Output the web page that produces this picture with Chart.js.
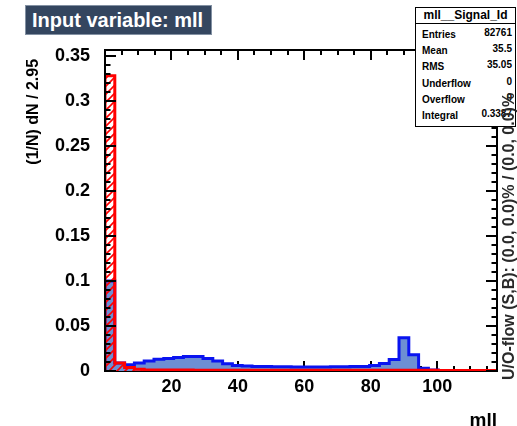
<!DOCTYPE html>
<html><head><meta charset="utf-8">
<script src="https://cdn.jsdelivr.net/npm/chart.js@4.4.1/dist/chart.umd.min.js"></script>
<style>
html,body{margin:0;padding:0;background:#fff;}
#wrap{position:relative;width:517px;height:426px;overflow:hidden;font-family:'Liberation Sans',Arial,sans-serif;}
#c{position:absolute;left:0;top:0;}
#title{position:absolute;left:25px;top:5px;width:187px;height:30px;box-sizing:border-box;background:#34465f;border:1px solid #8391a3;color:#fff;font-weight:bold;font-size:20px;line-height:28px;padding-left:6px;white-space:nowrap;}
#stats{position:absolute;left:415px;top:7px;width:101px;height:120px;box-sizing:border-box;border:1px solid #000;background:#fff;font-weight:bold;color:#000;}
#stats .hd{height:15px;line-height:15px;font-size:12px;text-align:center;border-bottom:1px solid #000;}
#stats .rows{padding-top:3px;}
#stats .row{display:flex;justify-content:space-between;height:16.2px;line-height:16.2px;font-size:10px;padding:0 3px 0 6px;}
#stats .row span:last-child{position:relative;top:-2px;}
#uo{position:absolute;left:500px;top:380px;transform-origin:0 0;transform:rotate(-90deg);font-size:16px;font-weight:bold;line-height:18px;white-space:nowrap;color:#2a2a2a;}
</style>
</head><body>
<div id="wrap">
<canvas id="c" width="517" height="426"></canvas>
<div id="title">Input variable: mll</div>
<div id="stats"></div>
<div id="uo">U/O-flow (S,B): (0.0, 0.0)% / (0.0, 0.0)%</div>
</div>
<script>
// ---- data ----
const BIN_WIDTH = 2.95;
const X_MIN = 0, X_MAX = 118;
const signal = [
  0.100, 0.009, 0.007, 0.009, 0.011, 0.013, 0.014, 0.015, 0.016, 0.016,
  0.014, 0.011, 0.008, 0.006, 0.0055, 0.005, 0.005, 0.0048, 0.0046, 0.0045,
  0.0045, 0.0045, 0.0045, 0.0046, 0.0048, 0.005, 0.005, 0.006, 0.0084, 0.0128,
  0.037, 0.018, 0.003, 0.001, 0.0006, 0.0004, 0.0003, 0.0003, 0.0003, 0.0003
];
const background = [
  0.328, 0.009, 0.004, 0.002, 0.0012, 0.001, 0.001, 0.001, 0.001, 0.0009,
  0.0009, 0.0008, 0.0008, 0.0008, 0.0007, 0.0007, 0.0007, 0.0007, 0.0007, 0.0007,
  0.0007, 0.0007, 0.0007, 0.0007, 0.0007, 0.0007, 0.0007, 0.0007, 0.0008, 0.0008,
  0.0009, 0.0008, 0.0007, 0.0007, 0.0006, 0.0006, 0.0006, 0.0006, 0.0006, 0.0006
];
const xTickValues = [20, 40, 60, 80, 100];
const xTickLabels = ['20', '40', '60', '80', '100'];
const yTickValues = [0, 0.05, 0.1, 0.15, 0.2, 0.25, 0.3, 0.35];
const yTickLabels = ['0', '0.05', '0.1', '0.15', '0.2', '0.25', '0.3', '0.35'];
const Y_MAX = 0.3567;
const xTitle = 'mll';
const yTitle = '(1/N) dN / 2.95';
const statsTitle = 'mll__Signal_Id';
const statsNames = ['Entries', 'Mean', 'RMS', 'Underflow', 'Overflow', 'Integral'];
const statsValues = ['82761', '35.5', '35.05', '0', '0', '0.3387'];

// stats box
const sb = document.getElementById('stats');
let html = '<div class="hd">' + statsTitle + '</div><div class="rows">';
statsNames.forEach((n, i) => { html += '<div class="row"><span>' + n + '</span><span>' + statsValues[i] + '</span></div>'; });
sb.innerHTML = html + '</div>';

function histPoints(vals) {
  const pts = [{x: X_MIN, y: 0}];
  vals.forEach((v, i) => pts.push({x: X_MIN + i * BIN_WIDTH, y: v}));
  pts.push({x: X_MIN + vals.length * BIN_WIDTH, y: vals[vals.length - 1]});
  return pts;
}
function makeHatch(color) {
  const c = document.createElement('canvas'); c.width = 8; c.height = 8;
  const g = c.getContext('2d'); g.strokeStyle = color; g.lineWidth = 1.6;
  g.beginPath();
  g.moveTo(0, 8); g.lineTo(8, 0);
  g.moveTo(-4, 4); g.lineTo(4, -4);
  g.moveTo(4, 12); g.lineTo(12, 4);
  g.stroke();
  return g.createPattern(c, 'repeat');
}

const X_MINOR = 5, Y_MINOR = 0.01;
function vals(min, max, step) { const out = []; for (let k = 0; min + k * step <= max + 1e-9; k++) out.push(+(min + k * step).toFixed(6)); return out; }
function isMajor(v, list) { return list.some(t => Math.abs(t - v) < 1e-7); }

const framePlugin = {
  id: 'rootFrame',
  beforeDatasetsDraw(chart) {
    const {ctx, chartArea: a, scales: {x}} = chart;
    ctx.save(); ctx.strokeStyle = '#000'; ctx.lineWidth = 2;
    ctx.beginPath(); ctx.moveTo(a.left - 1, a.bottom); ctx.lineTo(a.right + 1, a.bottom); ctx.stroke();
    ctx.beginPath();
    vals(X_MIN, X_MAX, X_MINOR).forEach(v => {
      const px = Math.round(x.getPixelForValue(v)); const L = isMajor(v, xTickValues.concat([0])) ? 10 : 5;
      ctx.moveTo(px, a.bottom); ctx.lineTo(px, a.bottom - L);
    });
    ctx.stroke(); ctx.restore();
  },
  afterDatasetsDraw(chart) {
    const {ctx, chartArea: a, scales: {x, y}} = chart;
    ctx.save(); ctx.strokeStyle = '#000'; ctx.lineWidth = 2;
    ctx.beginPath();
    ctx.moveTo(a.left, a.bottom + 1); ctx.lineTo(a.left, a.top); ctx.lineTo(a.right, a.top); ctx.lineTo(a.right, a.bottom + 1);
    ctx.stroke();
    ctx.beginPath();
    vals(X_MIN, X_MAX, X_MINOR).forEach(v => {
      const px = Math.round(x.getPixelForValue(v)); const L = isMajor(v, xTickValues.concat([0])) ? 10 : 5;
      ctx.moveTo(px, a.top); ctx.lineTo(px, a.top + L);
    });
    vals(0, Y_MAX, Y_MINOR).forEach(v => {
      const py = Math.round(y.getPixelForValue(v)); const L = isMajor(v, yTickValues) ? 11 : 5.5;
      ctx.moveTo(a.left, py); ctx.lineTo(a.left + L, py);
      ctx.moveTo(a.right, py); ctx.lineTo(a.right - L, py);
    });
    ctx.stroke(); ctx.restore();
  }
};

Chart.defaults.font.family = "'Liberation Sans', Arial, sans-serif";
new Chart(document.getElementById('c'), {
  type: 'line',
  data: {
    datasets: [
      { label: 'Background', data: histPoints(background), stepped: 'before',
        borderColor: '#ff0000', borderWidth: 3, backgroundColor: makeHatch('#ff0000'),
        fill: 'origin', pointRadius: 0, tension: 0 },
      { label: 'Signal', data: histPoints(signal), stepped: 'before',
        borderColor: '#0a14f0', borderWidth: 3, backgroundColor: '#6d8fd3',
        fill: 'origin', pointRadius: 0, tension: 0 }
    ]
  },
  options: {
    responsive: false, animation: false, devicePixelRatio: 1,
    layout: { padding: { left: 0, top: 50, right: 20, bottom: 0 } },
    plugins: { legend: { display: false }, tooltip: { enabled: false } },
    scales: {
      x: {
        type: 'linear', min: X_MIN, max: X_MAX,
        afterBuildTicks: s => { s.ticks = xTickValues.map(v => ({value: v})); },
        afterFit: s => { s.height = 55; },
        grid: { display: false }, border: { display: false },
        ticks: { autoSkip: false, maxRotation: 0, padding: -3, color: '#000',
                 font: { size: 18, weight: 'bold' },
                 callback: v => xTickLabels[xTickValues.indexOf(v)] },
        title: { display: true, text: xTitle, align: 'end', color: '#000',
                 font: { size: 19, weight: 'bold', lineHeight: 0.6 }, padding: { top: 0, bottom: 0 } }
      },
      y: {
        type: 'linear', min: 0, max: Y_MAX,
        afterBuildTicks: s => { s.ticks = yTickValues.map(v => ({value: v})); },
        afterFit: s => { s.width = 105; },
        grid: { display: false }, border: { display: false },
        ticks: { autoSkip: false, padding: 7, color: '#000',
                 font: { size: 18, weight: 'bold' },
                 callback: v => yTickLabels[yTickValues.findIndex(t => Math.abs(t - v) < 1e-7)] },
        title: { display: true, text: yTitle + '\u00a0\u00a0', align: 'end', color: '#000',
                 font: { size: 16, weight: 'bold' }, padding: { top: 24, bottom: 0 } }
      }
    }
  },
  plugins: [framePlugin]
});
</script>
</body></html>
